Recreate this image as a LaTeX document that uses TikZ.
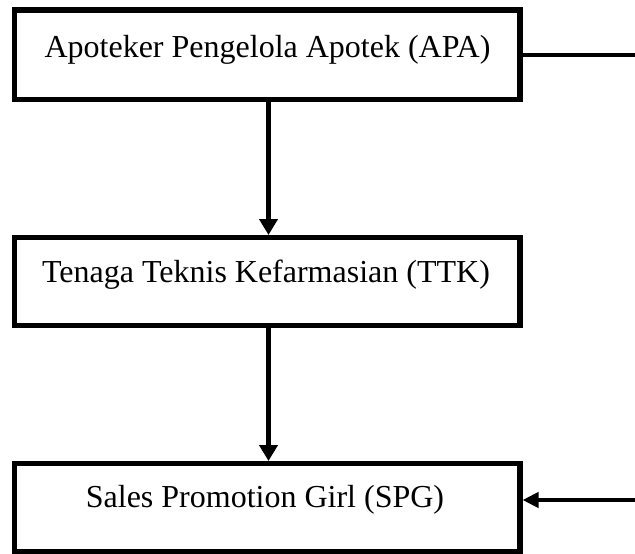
\documentclass[tikz,border=0pt]{standalone}
\usepackage{fontspec}
\setmainfont{Liberation Serif}
\usetikzlibrary{arrows.meta}
\begin{document}
\begin{tikzpicture}[x=1pt,y=-1pt,
  box/.style={draw=black, line width=5.5pt, fill=white, inner sep=0pt, outer sep=0pt,
              minimum width=505.5pt},
  label/.style={anchor=base, inner sep=0pt, font=\fontsize{32}{38}\selectfont},
  flow/.style={line width=5.5pt, -{Triangle[length=16pt,width=18pt]}, shorten >=2.5pt},
  side/.style={line width=4pt},
  sidearrow/.style={line width=4.5pt, -{Triangle[length=16pt,width=15pt]}, shorten >=2.5pt}]
  \useasboundingbox (0,0) rectangle (635,554);

  % the three boxes of the organisation chart
  \node[box, minimum height=89.5pt] (apa) at (267.25,54.75) {};
  \node[box, minimum height=88pt]   (ttk) at (267.25,281.5) {};
  \node[box, minimum height=88pt]   (spg) at (267.25,507.5) {};

  % box captions
  \node[label] (apaText) at (267.5,57)  {Apoteker Pengelola Apotek (APA)};
  \node[label] (ttkText) at (266,282)   {Tenaga Teknis Kefarmasian (TTK)};
  \node[label] (spgText) at (265,507)   {Sales Promotion Girl (SPG)};

  % column of the vertical arrows and the open ends on the right
  \coordinate (col) at (268.5,0);
  \coordinate (outTop) at (635,54.75);
  \coordinate (outBot) at (635,500);

  % chain of command
  \draw[flow] (apa.south -| col) -- (ttk.north -| col);
  \draw[flow] (ttk.south -| col) -- (spg.north -| col);

  % side line leaving APA and arrow coming into SPG
  \draw[side] (apa.east) -- (outTop);
  \draw[sidearrow] (outBot) -- (spg.east |- outBot);
\end{tikzpicture}
\end{document}
